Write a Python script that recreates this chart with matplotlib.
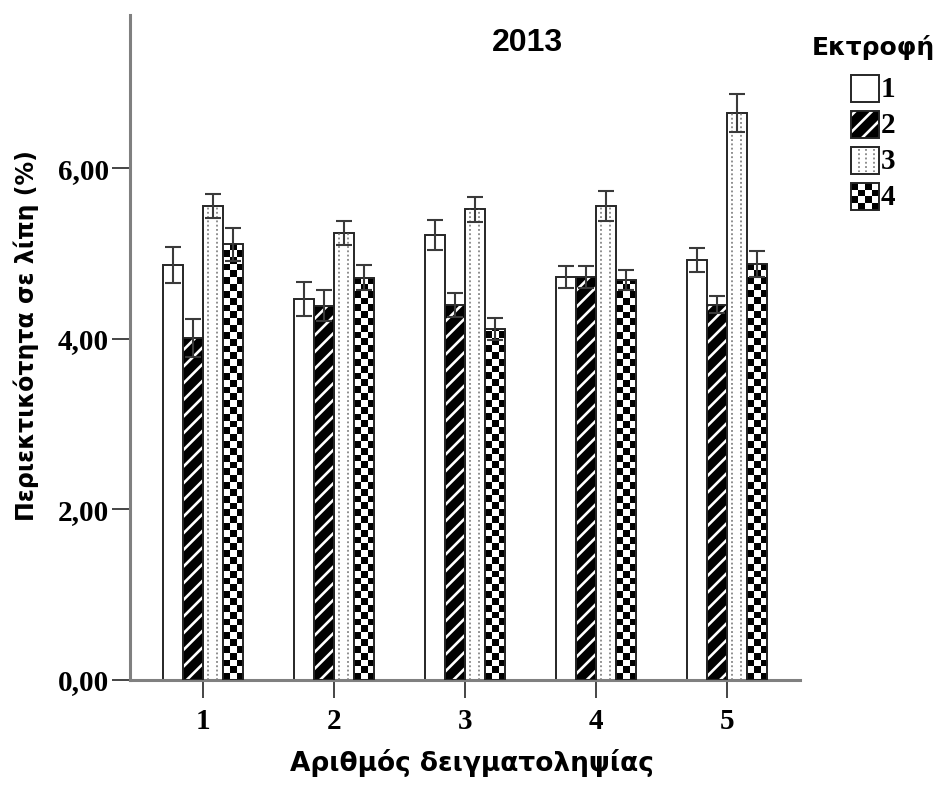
import numpy as np
import matplotlib
matplotlib.use("Agg")
import matplotlib.pyplot as plt
from matplotlib.patches import Rectangle

plt.rcParams["hatch.linewidth"] = 1.9

# Fat content per sampling number (1-5) for each farm (Εκτροφή 1-4)
samplings = [1, 2, 3, 4, 5]
farms = ["1", "2", "3", "4"]
farm1 = [4.87, 4.47, 5.22, 4.73, 4.93]
farm2 = [4.01, 4.39, 4.40, 4.73, 4.40]
farm3 = [5.56, 5.24, 5.52, 5.56, 6.65]
farm4 = [5.11, 4.72, 4.12, 4.69, 4.88]
err1 = [0.21, 0.20, 0.18, 0.13, 0.14]
err2 = [0.22, 0.18, 0.14, 0.13, 0.10]
err3 = [0.14, 0.14, 0.15, 0.18, 0.22]
err4 = [0.19, 0.15, 0.13, 0.12, 0.15]
yticks = [0, 2, 4, 6]
ytick_labels = ["0,00", "2,00", "4,00", "6,00"]

values = [farm1, farm2, farm3, farm4]
errors = [err1, err2, err3, err4]

SANS = ["DejaVu Sans"]
DIGITS = ["Liberation Sans", "DejaVu Sans"]
SERIF = ["Liberation Serif", "DejaVu Serif"]
EDGE = "#262626"

fig = plt.figure(figsize=(9.43, 7.85), dpi=100)
ax = fig.add_axes([130 / 943, 1 - 680 / 785, 670 / 943, 665 / 785])

x = np.array(samplings, dtype=float)
w = 20 / 131
offsets = np.array([-1.5, -0.5, 0.5, 1.5]) * w
sq = 0.08  # checker square height in data units


def checker(ax, x0, width, height, ncols, sqh, clip):
    rows = max(1, int(np.ceil(height / sqh)))
    arr = np.add.outer(np.arange(rows), np.arange(ncols)) % 2
    im = ax.imshow(arr, cmap="gray", vmin=0, vmax=1, origin="lower",
                   extent=[x0, x0 + width, 0, rows * sqh],
                   interpolation="nearest", aspect="auto", zorder=2)
    im.set_clip_path(clip)
    return im


for k in range(4):
    xs = x + offsets[k]
    vals = values[k]
    if k == 0:
        ax.bar(xs, vals, w, color="white", edgecolor=EDGE, linewidth=1.4, zorder=2)
    elif k == 1:
        ax.bar(xs, vals, w, color="black", edgecolor="white", hatch="//",
               linewidth=0, zorder=2)
        ax.bar(xs, vals, w, fill=False, edgecolor=EDGE, linewidth=1.4, zorder=3)
    elif k == 2:
        ax.bar(xs, vals, w, color="white", edgecolor=EDGE, linewidth=1.4, zorder=2)
        for frac in (0.25, 0.68):
            ax.vlines(xs - w / 2 + frac * w, 0, vals, colors="#707070",
                      linestyles=(0, (1.2, 1.6)), linewidth=1.1, zorder=2.5)
    else:
        bars = ax.bar(xs, vals, w, color="white", edgecolor="none", zorder=1.5)
        for b in bars:
            checker(ax, b.get_x(), w, b.get_height(), 3, sq, b)
        ax.bar(xs, vals, w, fill=False, edgecolor=EDGE, linewidth=1.4, zorder=3)
    ax.errorbar(xs, vals, yerr=errors[k], fmt="none", ecolor="#3a3a3a",
                elinewidth=1.5, capsize=5.5, capthick=1.5, zorder=4)

ax.set_xlim(0.443, 5.557)
ax.set_ylim(0, 7.8)
ax.set_xticks(samplings)
ax.set_xticklabels([str(s) for s in samplings])
ax.set_yticks(yticks)
ax.set_yticklabels(ytick_labels)
for lab in ax.get_xticklabels() + ax.get_yticklabels():
    lab.set_family(SERIF)
    lab.set_fontweight("bold")
    lab.set_fontsize(21)
ax.tick_params(axis="both", direction="out", length=13, width=1.4,
               color="#444444", pad=2)
ax.tick_params(axis="x", pad=7)
for side in ("top", "right"):
    ax.spines[side].set_visible(False)
for side in ("left", "bottom"):
    ax.spines[side].set_color("#808080")
    ax.spines[side].set_linewidth(2.2)

fig.text(527 / 943, 1 - 43 / 785, "2013", ha="center", va="center",
         fontsize=23, fontweight="bold", family=DIGITS)
fig.text(26 / 943, 1 - 336 / 785, "Περιεκτικότητα σε λίπη (%)", rotation=90,
         ha="center", va="center", fontsize=17, fontweight="bold", family=SANS)
fig.text(472 / 943, 1 - 763 / 785, "Αριθμός δειγματοληψίας", ha="center",
         va="center", fontsize=19, fontweight="bold", family=SANS)

# Legend drawn on a pixel-coordinate overlay
lax = fig.add_axes([0, 0, 1, 1], facecolor="none")
lax.set_xlim(0, 943)
lax.set_ylim(785, 0)
lax.axis("off")
lax.text(873, 48, "Εκτροφή", ha="center", va="center", fontsize=18,
         fontweight="bold", family=SANS)
bx, bw, bh = 851, 28, 27
for i, name in enumerate(farms):
    top = 75 + i * 36
    if i == 0:
        lax.add_patch(Rectangle((bx, top), bw, bh, facecolor="white",
                                edgecolor=EDGE, linewidth=1.4))
    elif i == 1:
        lax.add_patch(Rectangle((bx, top), bw, bh, facecolor="black",
                                edgecolor="white", hatch="//", linewidth=0))
        lax.add_patch(Rectangle((bx, top), bw, bh, fill=False,
                                edgecolor=EDGE, linewidth=1.4))
    elif i == 2:
        lax.add_patch(Rectangle((bx, top), bw, bh, facecolor="white",
                                edgecolor=EDGE, linewidth=1.4))
        for fx in (0.28, 0.55, 0.82):
            lax.vlines(bx + fx * bw, top + 2, top + bh - 2, colors="#707070",
                       linestyles=(0, (1.2, 1.6)), linewidth=1.1)
    else:
        clip = Rectangle((bx, top), bw, bh, facecolor="none", edgecolor="none")
        lax.add_patch(clip)
        arr = np.add.outer(np.arange(4), np.arange(4)) % 2
        im = lax.imshow(arr, cmap="gray", vmin=0, vmax=1,
                        extent=[bx, bx + bw, top + bh, top],
                        interpolation="nearest", aspect="auto")
        im.set_clip_path(clip)
        lax.add_patch(Rectangle((bx, top), bw, bh, fill=False,
                                edgecolor=EDGE, linewidth=1.4))
    lax.text(bx + bw + 2, top + bh / 2 + 1, name, ha="left", va="center",
             fontsize=21, fontweight="bold", family=SERIF)
lax.set_xlim(0, 943)
lax.set_ylim(785, 0)

fig.savefig("out.png", dpi=100)
